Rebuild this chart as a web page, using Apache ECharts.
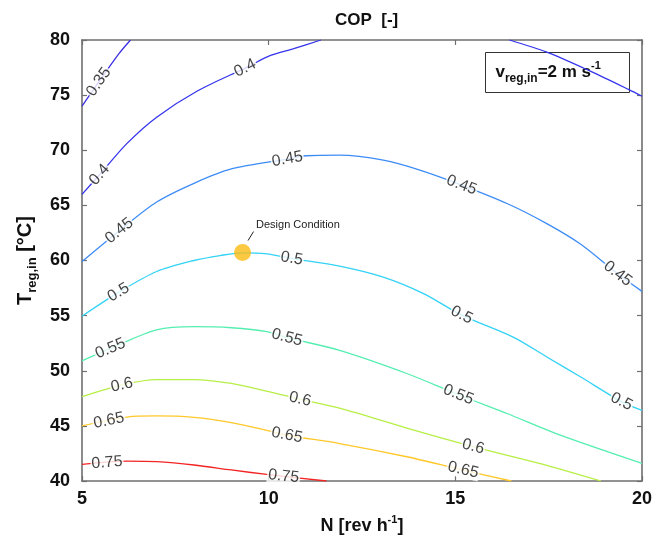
<!DOCTYPE html>
<html>
<head>
<meta charset="utf-8">
<script src="https://cdn.jsdelivr.net/npm/echarts@6/dist/echarts.min.js"></script>
<style>
  html, body { margin: 0; padding: 0; background: #fff; }
  #chart { width: 668px; height: 544px; }
</style>
</head>
<body>
<div id="chart"></div>
<script>
// COP iso-lines over wheel speed N [rev/h] and regeneration inlet temperature T [°C]
const nTicks = [5, 10, 15, 20];
const tTicks = [40, 45, 50, 55, 60, 65, 70, 75, 80];

// Each contour: [N, T] points along the iso-line
const cop035 = [[5, 74.0], [5.45, 76.2], [6.0, 78.8], [6.3, 80]];
const cop040a = [[5, 66.0], [5.5, 67.9], [6.2, 70.6], [7.0, 73.0], [8.1, 75.4], [9.4, 77.5], [10.05, 78.6], [10.65, 79.2], [11.4, 80]];
const cop040b = [[16.45, 80], [17.45, 78.9], [18.6, 77.2], [19.65, 75.5], [20, 74.9]];
const cop045 = [[5, 59.9], [6.0, 62.7], [7.0, 65.3], [8.0, 67.0], [9.0, 68.3], [10.5, 69.2], [11.0, 69.5], [11.9, 69.55], [13.07, 69.1], [14.05, 68.2], [15.2, 66.8], [16.4, 65.15], [17.45, 63.35], [18.35, 61.5], [19.35, 58.8], [20, 57.2]];
const cop050 = [[5, 54.95], [6.0, 57.15], [7.0, 59.0], [8.0, 60.0], [8.7, 60.45], [9.3, 60.7], [9.95, 60.6], [10.6, 60.2], [11.9, 59.5], [13.07, 58.5], [14.15, 57.0], [15.17, 55.05], [16.55, 53.05], [17.45, 51.25], [18.35, 49.45], [19.45, 47.2], [20, 46.4]];
const cop055 = [[5, 50.9], [5.75, 52.0], [7.0, 53.7], [8.0, 54.0], [9.0, 53.9], [9.95, 53.55], [10.5, 53.0], [11.9, 51.85], [13.7, 49.75], [15.1, 47.8], [16.4, 46.1], [17.7, 44.3], [20, 41.6]];
const cop060 = [[5, 47.65], [6.05, 48.7], [7.0, 49.2], [8.0, 49.2], [9.0, 48.85], [9.95, 48.15], [10.85, 47.4], [11.9, 46.6], [13.7, 44.8], [15.5, 43.1], [17.25, 41.6], [18.9, 40]];
const cop065 = [[5, 45.0], [6.2, 45.8], [7.0, 45.9], [8.0, 45.77], [9.0, 45.3], [9.95, 44.6], [10.5, 44.15], [11.9, 43.4], [13.7, 42.2], [15.2, 41.0], [16.5, 40]];
const cop075 = [[5, 41.5], [6.2, 41.8], [7.0, 41.75], [8.0, 41.45], [9.0, 41.0], [9.95, 40.6], [11.55, 40]];

// N positions of the in-line value labels on each contour
const lab035 = [5.45];
const lab040 = [5.47, 9.37];
const lab045 = [6.0, 10.5, 15.17, 19.35];
const lab050 = [5.98, 10.62, 15.17, 19.45];
const lab055 = [5.76, 10.49, 15.08];
const lab060 = [6.07, 10.84, 15.48];
const lab065 = [5.72, 10.49, 15.21];
const lab075 = [5.67, 10.4];

const levelNames = ['0.35', '0.4', '0.45', '0.5', '0.55', '0.6', '0.65', '0.75'];

const designPoint = [9.3, 60.72];
const designText = 'Design Condition';

// ---- styling ----
const FONT = 'Liberation Sans, Arial, Helvetica, sans-serif';
const AXIS_GREY = '#6f6f6f';
const levelColors = ['#3a2fe0', '#3535ec', '#3d8cf6', '#33d2f6', '#55eeb0', '#b6ef45', '#ffc82a', '#f22424'];

const contours = [
  { segs: [cop035], labels: lab035 },
  { segs: [cop040a, cop040b], labels: lab040 },
  { segs: [cop045], labels: lab045 },
  { segs: [cop050], labels: lab050 },
  { segs: [cop055], labels: lab055 },
  { segs: [cop060], labels: lab060 },
  { segs: [cop065], labels: lab065 },
  { segs: [cop075], labels: lab075 }
];

// linear interpolation of T along a contour at a given N
function tAt(segs, n) {
  for (const s of segs) {
    for (let i = 0; i < s.length - 1; i++) {
      const a = s[i], b = s[i + 1];
      if (n >= a[0] && n <= b[0]) {
        return a[1] + (b[1] - a[1]) * (n - a[0]) / (b[0] - a[0]);
      }
    }
  }
  const s = segs[0];
  return n < s[0][0] ? s[0][1] : s[s.length - 1][1];
}

const chart = echarts.init(document.getElementById('chart'), null, { renderer: 'canvas' });

function buildSeries(rotFn) {
  const series = [];
  contours.forEach((c, k) => {
    c.segs.forEach(seg => {
      series.push({
        type: 'line', data: seg, smooth: 0.3, symbol: 'none', silent: true,
        lineStyle: { color: levelColors[k], width: 1.3 }, z: 2, animation: false
      });
    });
  });
  contours.forEach((c, k) => {
    series.push({
      type: 'scatter', symbolSize: 0, silent: true, z: 5, animation: false,
      data: c.labels.map(n => ({
        value: [n, tAt(c.segs, n)],
        label: { rotate: rotFn(c.segs, n) }
      })),
      label: {
        show: true, position: 'inside', formatter: levelNames[k],
        fontFamily: FONT, fontSize: 16, color: '#111',
        backgroundColor: '#fff', padding: [0, 1]
      }
    });
  });
  series.push({
    type: 'scatter', data: [designPoint], symbolSize: 17, silent: true, z: 6,
    itemStyle: { color: '#fbbc14' }, animation: false
  });
  return series;
}

function axisCommon(extra) {
  return Object.assign({
    axisLine: { show: true, onZero: false, lineStyle: { color: AXIS_GREY, width: 1.6 } },
    axisTick: { show: true, inside: true, length: 5, lineStyle: { color: AXIS_GREY, width: 1.2 } },
    splitLine: { show: false }
  }, extra);
}

const labelStyle = { fontFamily: FONT, fontSize: 18, fontWeight: 'bold', color: '#111' };

const option = {
  animation: false,
  backgroundColor: '#fff',
  title: {
    text: 'COP  [-]', left: 330, top: 7,
    textStyle: { fontFamily: FONT, fontSize: 17, fontWeight: 'bold', color: '#111' }
  },
  grid: { left: 82, right: 26, top: 40, bottom: 63, show: false },
  xAxis: [
    axisCommon({
      type: 'value', min: nTicks[0], max: nTicks[nTicks.length - 1], interval: 5, position: 'bottom',
      axisLabel: Object.assign({ margin: 9 }, labelStyle),
      name: '{a|N [rev h}{p|-1}{a|]}', nameLocation: 'middle', nameGap: 33,
      nameTextStyle: {
        rich: {
          a: { fontFamily: FONT, fontSize: 18, fontWeight: 'bold', color: '#111', lineHeight: 24 },
          p: { fontFamily: FONT, fontSize: 11, fontWeight: 'bold', color: '#111', verticalAlign: 'top' }
        }
      }
    }),
    axisCommon({
      type: 'value', min: nTicks[0], max: nTicks[nTicks.length - 1], interval: 5, position: 'top',
      axisLabel: { show: false }
    })
  ],
  yAxis: [
    axisCommon({
      type: 'value', min: tTicks[0], max: tTicks[tTicks.length - 1], interval: 5, position: 'left',
      axisLabel: Object.assign({ margin: 12 }, labelStyle),
      name: '{t|T}{s|reg,in}{t| [°C]}', nameLocation: 'middle', nameRotate: 90, nameGap: 40,
      nameTextStyle: {
        rich: {
          t: { fontFamily: FONT, fontSize: 20, fontWeight: 'bold', color: '#111', lineHeight: 28 },
          s: { fontFamily: FONT, fontSize: 13, fontWeight: 'bold', color: '#111', verticalAlign: 'bottom' }
        }
      }
    }),
    axisCommon({
      type: 'value', min: tTicks[0], max: tTicks[tTicks.length - 1], interval: 5, position: 'right',
      axisLabel: { show: false }
    })
  ],
  series: buildSeries(() => 0)
};

chart.setOption(option);

// rotate each value label along its contour, in screen space
function rotation(segs, n) {
  const d = 0.2;
  const p0 = chart.convertToPixel({ xAxisIndex: 0, yAxisIndex: 0 }, [n - d, tAt(segs, n - d)]);
  const p1 = chart.convertToPixel({ xAxisIndex: 0, yAxisIndex: 0 }, [n + d, tAt(segs, n + d)]);
  return Math.atan2(-(p1[1] - p0[1]), p1[0] - p0[0]) * 180 / Math.PI;
}

const dp = chart.convertToPixel({ xAxisIndex: 0, yAxisIndex: 0 }, designPoint);

chart.setOption({
  series: buildSeries(rotation),
  graphic: [
    {
      type: 'line', z: 10, silent: true,
      shape: { x1: dp[0] + 5.5, y1: dp[1] - 12, x2: dp[0] + 11, y2: dp[1] - 21 },
      style: { stroke: '#222', lineWidth: 1 }
    },
    {
      type: 'text', z: 10, silent: true, x: dp[0] + 13.5, y: dp[1] - 28,
      style: { text: designText, fontFamily: FONT, fontSize: 11, fill: '#222', verticalAlign: 'middle' }
    },
    {
      type: 'group', left: 485, top: 52, z: 20, silent: true,
      children: [
        {
          type: 'rect', shape: { x: 0, y: 0, width: 144, height: 40 },
          style: { fill: '#fff', stroke: '#333', lineWidth: 1 }
        },
        {
          type: 'text', x: 10, y: 20,
          style: {
            text: '{v|v}{s|reg,in}{v|=2 m s}{p|-1}',
            verticalAlign: 'middle',
            rich: {
              v: { fontFamily: FONT, fontSize: 17, fontWeight: 'bold', fill: '#111', lineHeight: 24 },
              s: { fontFamily: FONT, fontSize: 12, fontWeight: 'bold', fill: '#111', verticalAlign: 'bottom' },
              p: { fontFamily: FONT, fontSize: 11, fontWeight: 'bold', fill: '#111', verticalAlign: 'top' }
            }
          }
        }
      ]
    }
  ]
});
</script>
</body>
</html>
